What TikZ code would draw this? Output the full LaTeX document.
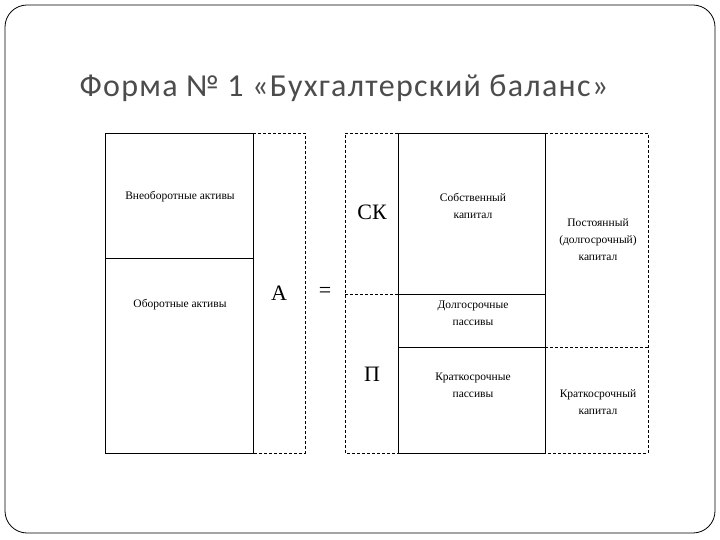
\documentclass[tikz,border=0pt]{standalone}
\usepackage{fontspec}
\setmainfont{Liberation Serif}
\newfontfamily\titlefont[LetterSpace=4]{Carlito}
\begin{document}
\begin{tikzpicture}[x=1pt,y=-1pt,
  sl/.style={line width=0.7pt},
  dl/.style={line width=0.7pt,dash pattern=on 3pt off 2pt},
  sm/.style={font=\fontsize{11.5}{17}\selectfont,align=center},
  big/.style={font=\fontsize{22}{24}\selectfont}]
\useasboundingbox (0,0) rectangle (720,540);
\draw[line width=0.8pt,rounded corners=22pt] (5,5) rectangle (715,533);
\node[font=\titlefont\fontsize{32}{34}\selectfont,text=black!70,anchor=west] (title) at (76,88) {Форма № 1 «Бухгалтерский баланс»};
% left
\draw[sl] (253,133) -- (105,133) -- (105,453) -- (253,453) -- cycle;
\draw[sl] (105,258) -- (253,258);
\draw[dl] (253,133) -- (305,133) -- (305,453) -- (253,453);
% right
\draw[dl] (398,133) -- (345,133) -- (345,453) -- (398,453);
\draw[sl] (398,133) -- (545,133) -- (545,453) -- (398,453) -- cycle;
\draw[dl] (545,133) -- (648,133) -- (648,453) -- (545,453);
\draw[dl] (345,294) -- (398,294);
\draw[sl] (398,294) -- (545,294);
\draw[sl] (398,347) -- (545,347);
\draw[dl] (545,347) -- (648,347);
% texts
\node[sm] (vna) at (180,197) {Внеоборотные активы};
\node[sm] (oa) at (180,305) {Оборотные активы};
\node[big] (A) at (279,293) {А};
\node[big] (eq) at (325,292) {=};
\node[big] (SK) at (372,212) {СК};
\node[big] (P) at (372,374) {П};
\node[sm] (sobk) at (473,206) {Собственный\\капитал};
\node[sm] (dp) at (473,313) {Долгосрочные\\пассивы};
\node[sm] (kp) at (473,385) {Краткосрочные\\пассивы};
\node[sm] (pk) at (598,240) {Постоянный\\(долгосрочный)\\капитал};
\node[sm] (kk) at (598,402) {Краткосрочный\\капитал};
\end{tikzpicture}
\end{document}
